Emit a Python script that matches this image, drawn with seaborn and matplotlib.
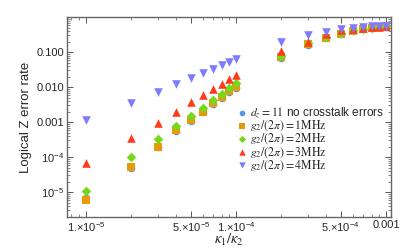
import numpy as np
import pandas as pd
import matplotlib
matplotlib.use('Agg')
import matplotlib.pyplot as plt
import matplotlib.ticker as mticker
import seaborn as sns

# kappa1/kappa2 values
kappa = [1e-5, 2e-5, 3e-5, 4e-5, 5e-5, 6e-5, 7e-5, 8e-5, 9e-5, 1e-4,
         2e-4, 3e-4, 4e-4, 5e-4, 6e-4, 7e-4, 8e-4, 9e-4, 1e-3]

no_crosstalk = [7.0e-6, 5.0e-5, 1.9e-4, 5.5e-4, 1.1e-3, 1.9e-3, 3.3e-3, 5.0e-3, 7.4e-3, 9.6e-3,
                0.070, 0.165, 0.25, 0.33, 0.40, 0.45, 0.48, 0.51, 0.53]
g1mhz = [5.9e-6, 5.2e-5, 2.0e-4, 5.8e-4, 1.15e-3, 2.0e-3, 3.5e-3, 5.2e-3, 7.7e-3, 0.010,
         0.072, 0.17, 0.26, 0.34, 0.41, 0.46, 0.49, 0.52, 0.54]
g2mhz = [1.1e-5, 1.0e-4, 3.3e-4, 7.7e-4, 1.5e-3, 2.5e-3, 4.2e-3, 6.3e-3, 9.4e-3, 0.013,
         0.075, 0.18, 0.27, 0.35, 0.42, 0.46, 0.50, 0.52, 0.54]
g3mhz = [6.7e-5, 3.5e-4, 9.4e-4, 2.0e-3, 3.7e-3, 5.9e-3, 8.7e-3, 0.012, 0.017, 0.022,
         0.107, 0.20, 0.32, 0.43, 0.47, 0.50, 0.52, 0.53, 0.55]
g4mhz = [1.15e-3, 3.5e-3, 7.2e-3, 0.012, 0.018, 0.025, 0.032, 0.042, 0.051, 0.063,
         0.19, 0.31, 0.37, 0.46, 0.49, 0.51, 0.54, 0.55, 0.56]

series = [
    (no_crosstalk, r"$d_z = 11$ no crosstalk errors", 'o', '#5B95E6'),
    (g1mhz, r"$g_2/(2\pi) = 1\mathrm{MHz}$", 's', '#E69A0C'),
    (g2mhz, r"$g_2/(2\pi) = 2\mathrm{MHz}$", 'D', '#76D81A'),
    (g3mhz, r"$g_2/(2\pi) = 3\mathrm{MHz}$", '^', '#FF3A1E'),
    (g4mhz, r"$g_2/(2\pi) = 4\mathrm{MHz}$", 'v', '#7F7BFF'),
]
sizes = {'o': 30, 's': 38, 'D': 24, '^': 38, 'v': 38}

xtick_vals = [1e-5, 5e-5, 1e-4, 5e-4, 1e-3]
xtick_labels = ["1.\u00d710$^{-5}$", "5.\u00d710$^{-5}$", "1.\u00d710$^{-4}$",
                "5.\u00d710$^{-4}$", "0.001"]
ytick_vals = [1e-5, 1e-4, 1e-3, 1e-2, 1e-1]
ytick_labels = ["10$^{-5}$", "10$^{-4}$", "0.001", "0.010", "0.100"]

sns.set_style('ticks')
plt.rcParams['font.family'] = ['Liberation Sans', 'DejaVu Sans']
plt.rcParams['mathtext.fontset'] = 'custom'
plt.rcParams['mathtext.rm'] = 'Liberation Sans'
plt.rcParams['mathtext.it'] = 'Liberation Sans:italic'

fig = plt.figure(figsize=(4.16, 2.48), dpi=100)
ax = fig.add_axes([0.161, 0.125, 0.779, 0.806])

for vals, lab, mk, col in series:
    df = pd.DataFrame({'k': kappa, 'err': vals})
    sns.scatterplot(data=df, x='k', y='err', marker=mk, color=col, s=sizes[mk],
                    linewidth=0, label=lab, ax=ax, zorder=3)

ax.set_xscale('log')
ax.set_yscale('log')
ax.set_xlim(10**-5.127, 10**-2.967)
ax.set_ylim(10**-5.71, 1.0)

ax.xaxis.set_major_locator(mticker.FixedLocator(xtick_vals))
ax.xaxis.set_major_formatter(mticker.FixedFormatter(xtick_labels))
ax.xaxis.set_minor_locator(mticker.LogLocator(base=10, subs=np.arange(2, 10), numticks=20))
ax.xaxis.set_minor_formatter(mticker.NullFormatter())

ax.yaxis.set_major_locator(mticker.FixedLocator(ytick_vals))
ax.yaxis.set_major_formatter(mticker.FixedFormatter(ytick_labels))
ax.yaxis.set_minor_locator(mticker.LogLocator(base=10, subs=np.arange(2, 10), numticks=20))
ax.yaxis.set_minor_formatter(mticker.NullFormatter())

ax.tick_params(which='both', direction='in', top=True, right=True, color='#555555')
ax.tick_params(which='major', length=4, width=0.7, labelsize=8, pad=2)
ax.tick_params(which='minor', length=2, width=0.5)
for sp in ax.spines.values():
    sp.set_color('#666666')
    sp.set_linewidth(1.0)

ax.set_xlabel(r"$\kappa_1/\kappa_2$", fontsize=10.5, math_fontfamily='stix', labelpad=-1)
ax.set_ylabel("Logical Z error rate", fontsize=9.5, labelpad=3)

ax.legend(loc='upper left', bbox_to_anchor=(0.505, 0.59), frameon=False,
          prop={'size': 8.5, 'math_fontfamily': 'stix'},
          handletextpad=0.1, labelspacing=-0.12, borderpad=0, handlelength=1.0,
          markerscale=0.75)

fig.savefig('out.png', dpi=100)
